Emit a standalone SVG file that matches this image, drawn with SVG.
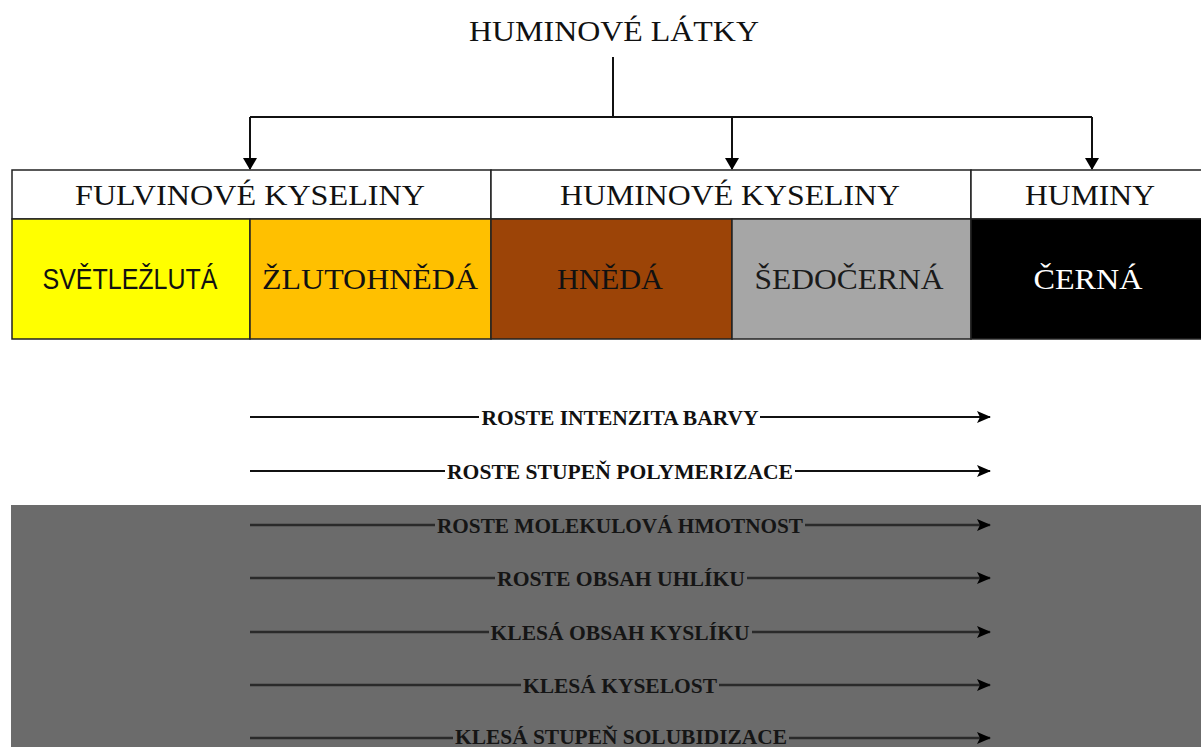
<svg xmlns="http://www.w3.org/2000/svg" width="1201" height="747" viewBox="0 0 1201 747">
<defs>
<marker id="ah" markerWidth="14" markerHeight="12" refX="13" refY="6" orient="auto" markerUnits="userSpaceOnUse">
<path d="M0,0 L14,6 L0,12 L3,6 Z" fill="#000"/>
</marker>
<marker id="ahd" markerWidth="12" markerHeight="16" refX="11" refY="8" orient="auto" markerUnits="userSpaceOnUse">
<path d="M0,1 L12,8 L0,15 Z" fill="#000"/>
</marker>
<style>
.serif{font-family:"Liberation Serif","Times New Roman",serif;}
.sans{font-family:"Liberation Sans",Arial,sans-serif;}
.title{font-size:29px;fill:#111;}
.hdr{font-size:30px;fill:#111;}
.col{font-size:30px;}
.lbl{font-size:21px;font-weight:bold;fill:#111;}
.lbld{font-size:21px;font-weight:bold;fill:#151515;}
.cell{stroke:#222;stroke-width:1.5;}
.ln{stroke:#111;stroke-width:2;fill:none;}
.lnd{stroke:#2a2a2a;stroke-width:2.5;fill:none;}
</style>
</defs>
<rect width="1201" height="747" fill="#fff"/>
<rect x="11" y="505" width="1190" height="242" fill="#6b6b6b"/>

<g id="title">
<text class="serif title" x="614" y="41" text-anchor="middle" textLength="290" lengthAdjust="spacingAndGlyphs">HUMINOVÉ LÁTKY</text>
</g>

<g id="connectors">
<path class="ln" d="M613 57 V117"/>
<path class="ln" d="M250 117 H1092" stroke-width="2.5"/>
<path class="ln" d="M250 117 V169" marker-end="url(#ahd)"/>
<path class="ln" d="M732 117 V169" marker-end="url(#ahd)"/>
<path class="ln" d="M1092 117 V169" marker-end="url(#ahd)"/>
<path class="ln" d="M250 417 H479 M760 417 H990" marker-end="url(#ah)"/>
<path class="ln" d="M250 471 H445 M795 471 H990" marker-end="url(#ah)"/>
<path class="lnd" d="M250 525 H435 M805 525 H990" marker-end="url(#ah)"/>
<path class="lnd" d="M250 578 H495 M747 578 H990" marker-end="url(#ah)"/>
<path class="lnd" d="M250 632 H489 M752 632 H990" marker-end="url(#ah)"/>
<path class="lnd" d="M250 685 H521 M719 685 H990" marker-end="url(#ah)"/>
<path class="lnd" d="M250 738 H453 M789 738 H990" marker-end="url(#ah)"/>
</g>

<g id="fulvinove-kyseliny">
<rect class="cell" x="12" y="170" width="479" height="49" fill="#fff"/>
<text class="serif hdr" x="250" y="205" text-anchor="middle" textLength="350" lengthAdjust="spacingAndGlyphs">FULVINOVÉ KYSELINY</text>
</g>
<g id="huminove-kyseliny">
<rect class="cell" x="491" y="170" width="480" height="49" fill="#fff"/>
<text class="serif hdr" x="730" y="205" text-anchor="middle" textLength="340" lengthAdjust="spacingAndGlyphs">HUMINOVÉ KYSELINY</text>
</g>
<g id="huminy">
<rect class="cell" x="971" y="170" width="232" height="49" fill="#fff"/>
<text class="serif hdr" x="1090" y="205" text-anchor="middle" textLength="130" lengthAdjust="spacingAndGlyphs">HUMINY</text>
</g>

<g id="svetlezluta">
<rect class="cell" x="12" y="219" width="238" height="120" fill="#ffff00"/>
<text class="sans col" x="130" y="289" text-anchor="middle" fill="#111" textLength="175" lengthAdjust="spacingAndGlyphs">SVĚTLEŽLUTÁ</text>
</g>
<g id="zlutohneda">
<rect class="cell" x="250" y="219" width="241" height="120" fill="#ffc000"/>
<text class="serif col" x="370" y="289" text-anchor="middle" fill="#111" textLength="216" lengthAdjust="spacingAndGlyphs">ŽLUTOHNĚDÁ</text>
</g>
<g id="hneda">
<rect class="cell" x="491" y="219" width="241" height="120" fill="#9c4407"/>
<text class="serif col" x="610" y="289" text-anchor="middle" fill="#111" textLength="106" lengthAdjust="spacingAndGlyphs">HNĚDÁ</text>
</g>
<g id="sedocerna">
<rect class="cell" x="732" y="219" width="239" height="120" fill="#a6a6a6"/>
<text class="serif col" x="849" y="289" text-anchor="middle" fill="#1a1a1a" textLength="189" lengthAdjust="spacingAndGlyphs">ŠEDOČERNÁ</text>
</g>
<g id="cerna">
<rect class="cell" x="971" y="219" width="232" height="120" fill="#000"/>
<text class="serif col" x="1088" y="289" text-anchor="middle" fill="#fff" textLength="109" lengthAdjust="spacingAndGlyphs">ČERNÁ</text>
</g>

<g id="labels">
<text class="serif lbl" x="620" y="425" text-anchor="middle" textLength="277" lengthAdjust="spacingAndGlyphs">ROSTE INTENZITA BARVY</text>
<text class="serif lbl" x="620" y="479" text-anchor="middle" textLength="346" lengthAdjust="spacingAndGlyphs">ROSTE STUPEŇ POLYMERIZACE</text>
<text class="serif lbld" x="620" y="533" text-anchor="middle" textLength="366" lengthAdjust="spacingAndGlyphs">ROSTE MOLEKULOVÁ HMOTNOST</text>
<text class="serif lbld" x="621" y="586" text-anchor="middle" textLength="248" lengthAdjust="spacingAndGlyphs">ROSTE OBSAH UHLÍKU</text>
<text class="serif lbld" x="620" y="640" text-anchor="middle" textLength="259" lengthAdjust="spacingAndGlyphs">KLESÁ OBSAH KYSLÍKU</text>
<text class="serif lbld" x="620" y="693" text-anchor="middle" textLength="194" lengthAdjust="spacingAndGlyphs">KLESÁ KYSELOST</text>
<text class="serif lbld" x="621" y="744" text-anchor="middle" textLength="332" lengthAdjust="spacingAndGlyphs">KLESÁ STUPEŇ SOLUBIDIZACE</text>
</g>
</svg>
